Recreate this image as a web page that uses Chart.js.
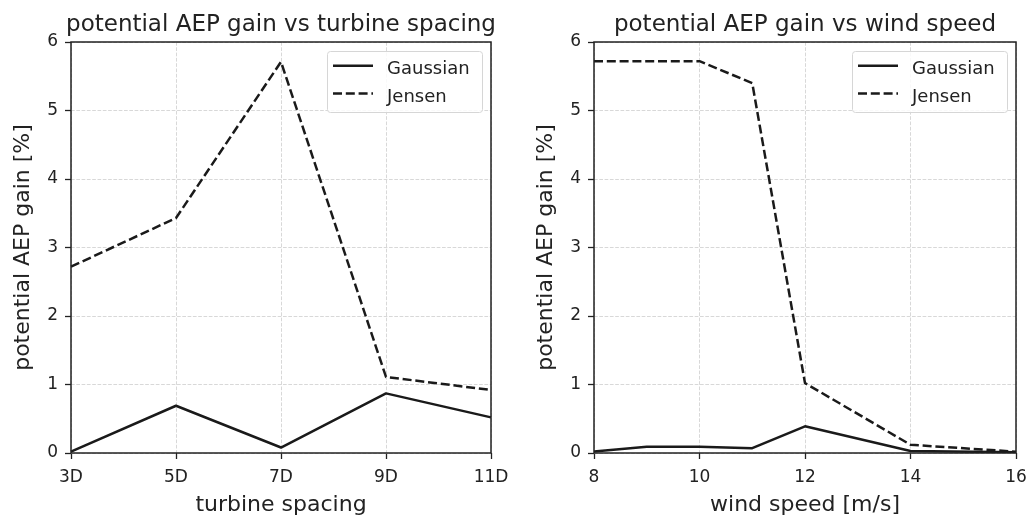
<!DOCTYPE html>
<html><head><meta charset="utf-8">
<script src="https://cdn.jsdelivr.net/npm/chart.js@4"></script>
<style>
html,body{margin:0;padding:0;background:#fff;width:1027px;height:517px;overflow:hidden;}
canvas{position:absolute;top:0;}
#c1{left:0;} #c2{left:523px;}
</style></head><body>
<canvas id="c1" width="513" height="517"></canvas>
<canvas id="c2" width="504" height="517"></canvas>
<script>
// ---- data ----
const spacingLabels = ['3D', '5D', '7D', '9D', '11D'];
const spacingGaussian = [0.02, 0.69, 0.08, 0.87, 0.52];
const spacingJensen = [2.72, 3.43, 5.71, 1.11, 0.92];

const windSpeeds = [8, 9, 10, 11, 12, 14, 16];
const windGaussian = [0.02, 0.09, 0.09, 0.07, 0.39, 0.03, 0.01];
const windJensen = [5.72, 5.72, 5.72, 5.40, 1.02, 0.12, 0.02];
const windTicks = [8, 10, 12, 14, 16];

const yTicks = [0, 1, 2, 3, 4, 5, 6];
const seriesNames = ['Gaussian', 'Jensen'];

// ---- style ----
const FONT = 'DejaVu Sans';
const TXT = '#222222';
const LINE = '#1a1a1a';
const FRAME = '#222222';
const GRID = '#d4d4d4';
const DASH = [9, 3.8];

function makePlugin(titleText) {
  return {
    id: 'mpl',
    afterDatasetsDraw(chart) {
      const {ctx, chartArea: ca} = chart;
      ctx.save();
      ctx.strokeStyle = FRAME;
      ctx.lineWidth = 1.5;
      ctx.strokeRect(ca.left, ca.top, ca.right - ca.left, ca.bottom - ca.top);
      ctx.restore();
    },
    afterDraw(chart) {
      const {ctx, chartArea: ca} = chart;
      ctx.save();
      // title
      ctx.fillStyle = TXT;
      ctx.font = '23px "' + FONT + '"';
      ctx.textAlign = 'center';
      ctx.textBaseline = 'alphabetic';
      ctx.fillText(titleText, (ca.left + ca.right) / 2, 31);
      // legend
      const w = 155, h = 61;
      const x0 = ca.right - 9 - w, y0 = ca.top + 9;
      ctx.beginPath();
      ctx.roundRect(x0 + 0.5, y0 + 0.5, w, h, 3);
      ctx.fillStyle = 'rgba(255,255,255,0.85)';
      ctx.fill();
      ctx.strokeStyle = '#d6d6d6';
      ctx.lineWidth = 1;
      ctx.stroke();
      chart.data.datasets.forEach((ds, i) => {
        const yy = y0 + 14.7 + i * 27.8;
        ctx.beginPath();
        ctx.setLineDash(ds.borderDash || []);
        ctx.strokeStyle = ds.borderColor;
        ctx.lineWidth = ds.borderWidth;
        ctx.moveTo(x0 + 6, yy);
        ctx.lineTo(x0 + 46, yy);
        ctx.stroke();
        ctx.setLineDash([]);
        ctx.fillStyle = TXT;
        ctx.font = '18px "' + FONT + '"';
        ctx.textAlign = 'left';
        ctx.textBaseline = 'alphabetic';
        ctx.fillText(ds.label, x0 + 60, yy + 8.6);
      });
      ctx.restore();
    }
  };
}

function zeroPad(s) { s.paddingLeft = 0; s.paddingRight = 0; s.paddingTop = 0; s.paddingBottom = 0; }

function yScale() {
  return {
    min: 0, max: 6,
    afterFit: s => { s.width = 71; zeroPad(s); },
    afterBuildTicks: s => { s.ticks = yTicks.map(v => ({value: v})); },
    ticks: {font: {family: FONT, size: 17}, color: TXT, padding: 7},
    grid: {color: GRID, lineWidth: 0.9, tickLength: 6, tickColor: FRAME, tickWidth: 1.3, tickBorderDash: []},
    border: {display: false, dash: [3.7, 1.6]},
    title: {display: true, text: 'potential AEP gain [%]', color: TXT,
            font: {family: FONT, size: 22, lineHeight: 1}, padding: {top: 12, bottom: 0}}
  };
}

function xCommon(titleText) {
  return {
    afterFit: s => { s.height = 64; zeroPad(s); },
    ticks: {font: {family: FONT, size: 17}, color: TXT, padding: 8, maxRotation: 0, autoSkip: false},
    grid: {color: GRID, lineWidth: 0.9, tickLength: 6, tickColor: FRAME, tickWidth: 1.3, tickBorderDash: [], offset: false},
    border: {display: false, dash: [3.7, 1.6]},
    title: {display: true, text: titleText, color: TXT,
            font: {family: FONT, size: 22, lineHeight: 1}, padding: {top: 0, bottom: 1}}
  };
}

function ds(label, data, dashed) {
  return {label, data, borderColor: LINE, borderWidth: 2.5, borderDash: dashed ? DASH : [],
          pointRadius: 0, tension: 0, fill: false, borderJoinStyle: 'round'};
}

const baseOpts = (padRight) => ({
  responsive: false, animation: false, devicePixelRatio: 1,
  layout: {padding: {top: 42, right: padRight, left: 0, bottom: 0}},
  plugins: {legend: {display: false}, title: {display: false}, tooltip: {enabled: false}},
});

// left chart
const o1 = baseOpts(22);
o1.scales = {x: Object.assign({type: 'category', offset: false}, xCommon('turbine spacing')), y: yScale()};
new Chart(document.getElementById('c1'), {
  type: 'line',
  data: {labels: spacingLabels, datasets: [ds(seriesNames[0], spacingGaussian, false), ds(seriesNames[1], spacingJensen, true)]},
  options: o1,
  plugins: [makePlugin('potential AEP gain vs turbine spacing')]
});

// right chart
const o2 = baseOpts(11);
const x2 = Object.assign({type: 'linear', min: 8, max: 16,
  afterBuildTicks: s => { s.ticks = windTicks.map(v => ({value: v})); }}, xCommon('wind speed [m/s]'));
o2.scales = {x: x2, y: yScale()};
new Chart(document.getElementById('c2'), {
  type: 'line',
  data: {datasets: [
    ds(seriesNames[0], windSpeeds.map((v, i) => ({x: v, y: windGaussian[i]})), false),
    ds(seriesNames[1], windSpeeds.map((v, i) => ({x: v, y: windJensen[i]})), true)
  ]},
  options: o2,
  plugins: [makePlugin('potential AEP gain vs wind speed')]
});
</script>
</body></html>
